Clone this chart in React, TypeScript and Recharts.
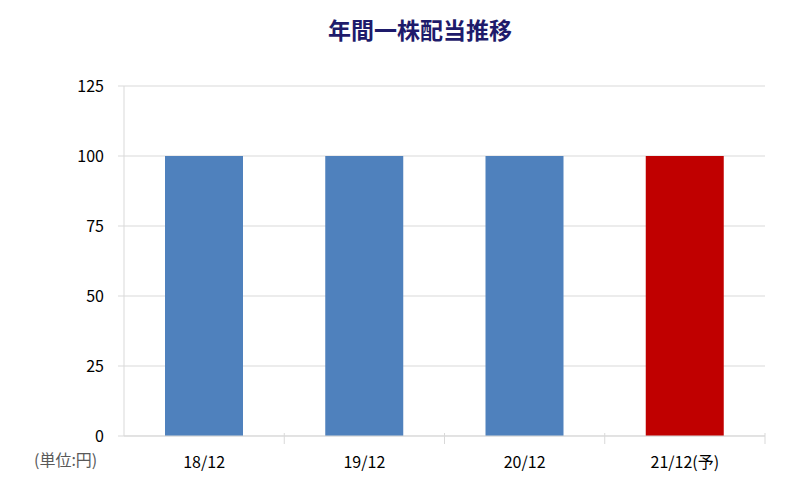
import React from 'react';
import { BarChart, Bar, XAxis, YAxis, CartesianGrid, Cell } from 'recharts';

const categories = ['18/12', '19/12', '20/12', '21/12(予)'];
const dividends = [100, 100, 100, 100];
const barColors = ['#4F81BD', '#4F81BD', '#4F81BD', '#C00000'];
const yTicks = [0, 25, 50, 75, 100, 125];

const chartData = categories.map((name, i) => ({ name, value: dividends[i] }));

const FONT = '"Noto Sans CJK JP", "Noto Sans", sans-serif';

// x tick: label below, plus Excel-style boundary tick mark at right edge of the band
const CategoryTick = (props: any) => {
  const { x, y, payload } = props;
  const half = payload && payload.offset ? payload.offset : 80;
  return (
    <g>
      <line x1={x + half} x2={x + half} y1={y - 11} y2={y} stroke="#D9D9D9" strokeWidth={1} />
      <text x={x} y={y + 24} textAnchor="middle" fill="#000" fontSize={16} fontFamily={FONT}>
        {payload.value}
      </text>
    </g>
  );
};

export default function App() {
  return (
    <div style={{ position: 'absolute', left: 0, top: 0, width: 795, height: 489, background: '#fff', fontFamily: FONT }}>
      <div
        style={{
          position: 'absolute',
          left: 0,
          top: 12,
          width: 840,
          textAlign: 'center',
          fontSize: 23,
          fontWeight: 700,
          color: '#1E1B6B',
        }}
      >
        年間一株配当推移
      </div>
      <BarChart
        width={795}
        height={489}
        data={chartData}
        margin={{ top: 86, right: 30, left: 0, bottom: 0 }}
      >
        <CartesianGrid vertical={false} stroke="#D9D9D9" />
        <XAxis
          dataKey="name"
          axisLine={{ stroke: '#D9D9D9' }}
          tickLine={false}
          tick={<CategoryTick />}
          interval={0}
          height={53}
        />
        <YAxis
          domain={[0, 125]}
          ticks={yTicks}
          width={124}
          axisLine={{ stroke: '#D9D9D9' }}
          tickLine={{ stroke: '#D9D9D9' }}
          tickSize={6}
          tickMargin={14}
          tick={{ fill: '#000', fontSize: 16, fontFamily: FONT }}
        />
        <Bar dataKey="value" barSize={78} isAnimationActive={false}>
          {chartData.map((_, i) => (
            <Cell key={i} fill={barColors[i]} />
          ))}
        </Bar>
      </BarChart>
      <div
        style={{
          position: 'absolute',
          left: 34,
          top: 447,
          fontSize: 16,
          color: '#595959',
        }}
      >
        (単位:円)
      </div>
    </div>
  );
}
